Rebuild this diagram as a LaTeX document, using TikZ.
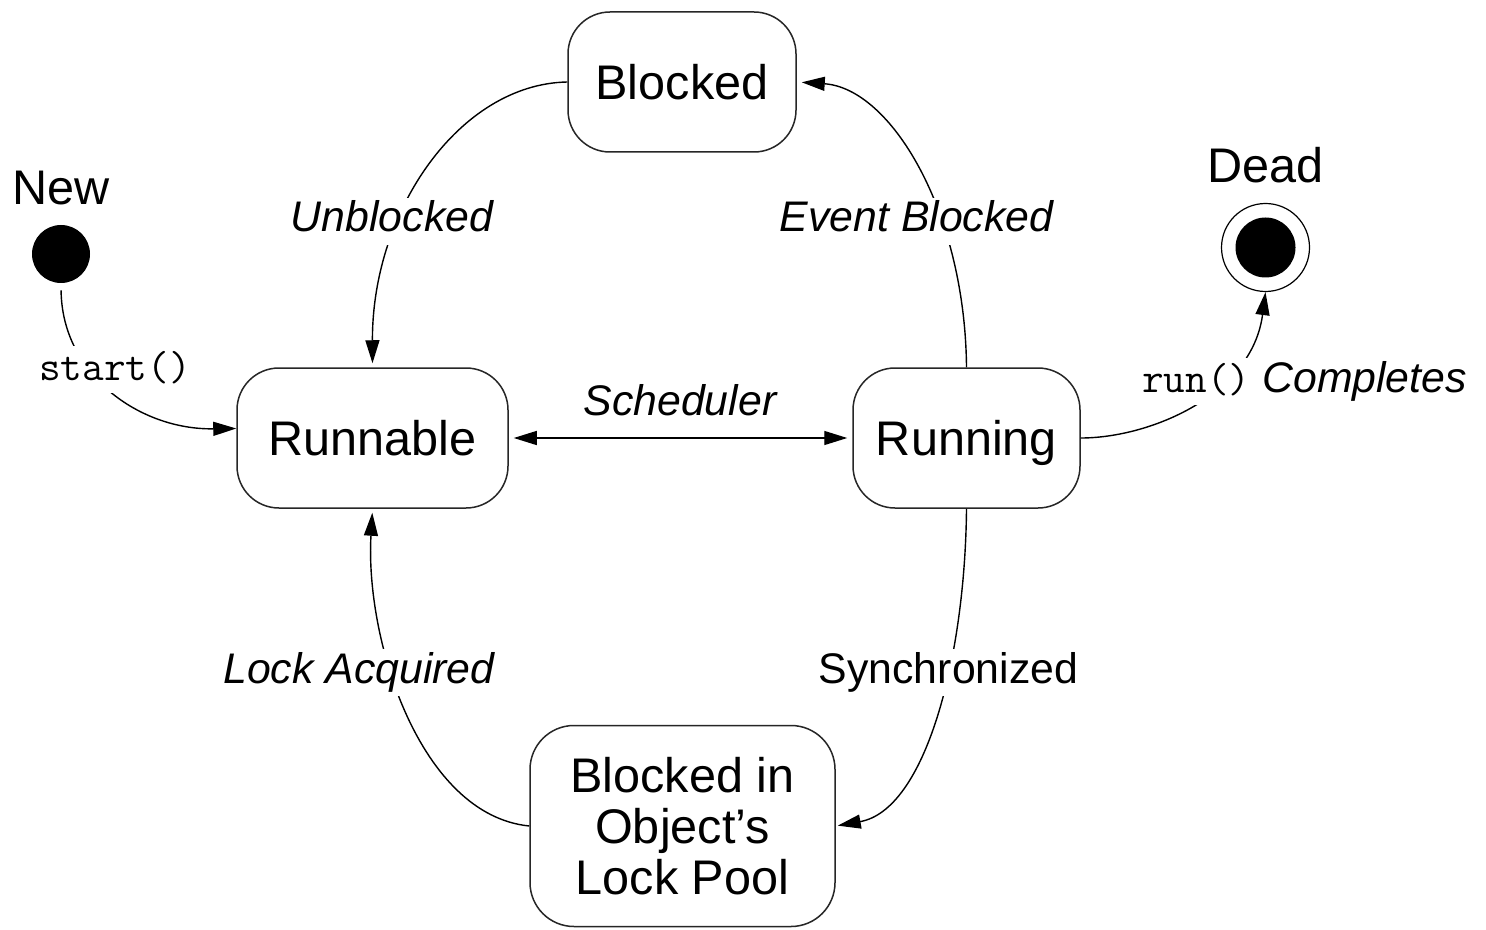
\documentclass[tikz,border=0pt]{standalone}
\usepackage{fontspec}
\setmainfont{Liberation Sans}
\usetikzlibrary{arrows.meta}

% font sizes used in the state chart
\newcommand\statefont{\fontsize{24.3}{25.5}\selectfont}
\newcommand\edgefont{\fontsize{21.4}{24}\selectfont}
\newcommand\codefont{\fontsize{21}{24}\selectfont\ttfamily}

\begin{document}
\begin{tikzpicture}[x=0.5pt, y=-0.5pt,
  >={Triangle[length=11.5pt,width=7pt]},
  statebox/.style={draw=black!85, line width=0.75pt, rounded corners=21pt,
    inner sep=0pt, font=\statefont, text height=17.4pt, text depth=0pt,
    minimum height=70pt},
  poolbox/.style={draw=black!85, line width=0.75pt, rounded corners=22pt,
    inner sep=0pt, font=\statefont, align=center,
    minimum width=152.5pt, minimum height=100.5pt},
  pseudostate/.style={circle, fill=black, inner sep=0pt},
  caption/.style={font=\statefont, anchor=base, inner sep=0pt},
  edge/.style={draw=black, line width=0.7pt, ->},
  elabel/.style={fill=white, inner sep=1pt, font=\edgefont\itshape,
    text height=16pt, text depth=5.5pt, anchor=base},
]
\useasboundingbox (0,0) rectangle (1486,930);
\fill[white] (0,0) rectangle (1486,930);

% states
\node[statebox, minimum width=114pt]   (blocked)  at (682,82)    {Blocked};
\node[statebox, minimum width=135.5pt] (runnable) at (372.5,438) {Runnable};
\node[statebox, minimum width=113.5pt] (running)  at (966.5,438) {Running};
\node[poolbox] (pool) at (682.5,826) {Blocked in\\Object’s\\Lock Pool};

% initial and final pseudostates
\node[pseudostate, minimum size=29pt] (new) at (61,254) {};
\node[caption] (newcap) at (61.5,205) {New};
\node[circle, draw=black, line width=0.6pt, minimum size=44pt, inner sep=0pt]
  (dead) at (1265.5,247.5) {};
\node[pseudostate, minimum size=30pt] (deadcore) at (dead.center) {};
\node[caption] (deadcap) at (1265.5,183) {Dead};

% transitions
\draw[edge, shorten <=3.5pt] (new.south)
  .. controls (62,375) and (140,430) .. (runnable.176.6);
\draw[edge, shorten >=2pt] (blocked.west)
  .. controls (460,84) and (372,210) .. (runnable.north);
\draw[edge, shorten >=2.5pt] (running.north)
  .. controls (965,210) and (890,88) .. (blocked.east);
\draw[edge, <->, shorten <=2.5pt, shorten >=2.5pt] (runnable.east) -- (running.west);
\draw[edge] (running.east)
  .. controls (1150,438) and (1252,395) .. (dead.south);
\draw[edge, shorten >=1pt] (running.south)
  .. controls (965,660) and (925,810) .. (pool.east);
\draw[edge, shorten >=2pt] (pool.west)
  .. controls (420,815) and (365,640) .. (runnable.south);

% transition labels
\node[elabel, font=\codefont] (lblstart) at (115,380) {start()};
\node[elabel] (lblunblocked) at (392,232) {Unblocked};
\node[elabel] (lblevent) at (916.5,232) {Event Blocked};
\node[elabel, fill=none] (lblsched) at (680,415) {Scheduler};
\node[elabel, font=\edgefont] (lblrun) at (1304.5,392)
  {{\codefont run()}\hspace{6pt}\itshape Completes};
\node[elabel] (lbllock) at (359,683) {Lock Acquired};
\node[elabel, font=\edgefont] (lblsync) at (948.5,683) {Synchronized};
\end{tikzpicture}
\end{document}
